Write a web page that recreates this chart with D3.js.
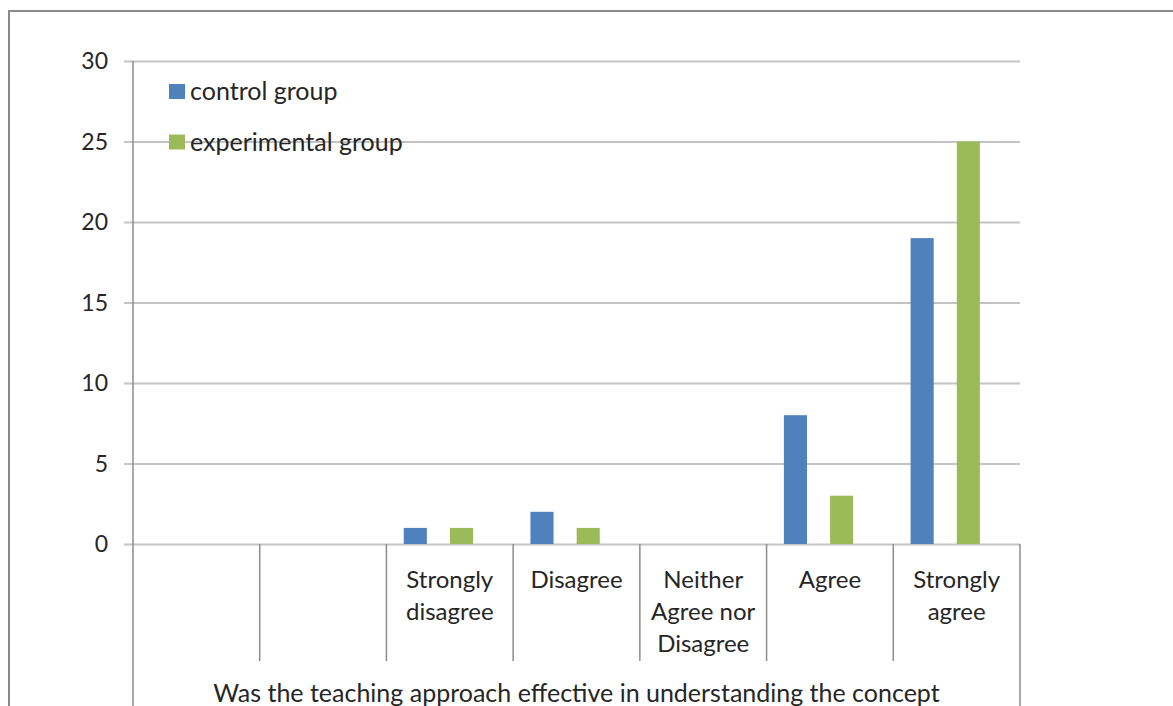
<!DOCTYPE html>
<html>
<head>
<meta charset="utf-8">
<script src="https://cdn.jsdelivr.net/npm/d3@7/dist/d3.min.js"></script>
<style>
  html, body { margin: 0; padding: 0; background: #fff; }
  svg { display: block; }
  text { font-family: Lato, "Open Sans", sans-serif; fill: #262626; }
</style>
</head>
<body>
<svg id="chart" width="1173" height="706"></svg>
<script>
// Survey responses per answer option
const categories = ["", "", "Strongly disagree", "Disagree", "Neither Agree nor Disagree", "Agree", "Strongly agree"];
const categoryLines = [[], [], ["Strongly", "disagree"], ["Disagree"], ["Neither", "Agree nor", "Disagree"], ["Agree"], ["Strongly", "agree"]];
const seriesNames = ["control group", "experimental group"];
const controlGroup = [0, 0, 1, 2, 0, 8, 19];
const experimentalGroup = [0, 0, 1, 1, 0, 3, 25];
const seriesColors = ["#4f81bd", "#9bbb59"];
const yTicks = [0, 5, 10, 15, 20, 25, 30];
const axisTitle = "Was the teaching approach effective in understanding the concept";

const W = 1173, H = 706;
const plot = { left: 133, right: 1020, top: 61, bottom: 544 };

const svg = d3.select("#chart");

// Outer chart frame (runs past the right and bottom edges)
svg.append("path")
  .attr("d", `M9,${H + 2} V11 H${W + 2}`)
  .attr("fill", "none")
  .attr("stroke", "#8a8a8a")
  .attr("stroke-width", 2);

const x = d3.scaleBand()
  .domain(d3.range(categories.length))
  .range([plot.left, plot.right])
  .padding(0);

const xInner = d3.scaleBand()
  .domain(d3.range(seriesNames.length))
  .range([x.bandwidth() * 0.1366, x.bandwidth() * 0.6836])
  .paddingInner(0.5)
  .paddingOuter(0);

const y = d3.scaleLinear()
  .domain([0, 30])
  .range([plot.bottom, plot.top]);

// Horizontal gridlines with tick stubs
const yAxis = d3.axisLeft(y)
  .tickValues(yTicks)
  .tickSize(-(plot.right - plot.left) - 9)
  .tickPadding(17)
  .tickFormat(d3.format("d"));

const gy = svg.append("g")
  .attr("transform", `translate(${plot.right},0)`)
  .call(yAxis);
gy.select(".domain").remove();
gy.selectAll(".tick line")
  .attr("x1", 0)
  .attr("x2", -(plot.right - plot.left) - 9)
  .attr("stroke", "#c4c4c4")
  .attr("stroke-width", 2);
gy.selectAll(".tick text").remove();

// Tick labels
svg.append("g").selectAll("text")
  .data(yTicks)
  .join("text")
  .attr("x", 108)
  .attr("y", d => y(d))
  .attr("dy", "0.36em")
  .attr("text-anchor", "end")
  .style("font-size", "23px")
  .text(d => d);

// Vertical axis line, running down through the category label area
svg.append("line")
  .attr("x1", plot.left).attr("x2", plot.left)
  .attr("y1", plot.top).attr("y2", H)
  .attr("stroke", "#8c8c8c").attr("stroke-width", 1.5);

svg.append("line")
  .attr("x1", plot.right).attr("x2", plot.right)
  .attr("y1", plot.bottom).attr("y2", H)
  .attr("stroke", "#8c8c8c").attr("stroke-width", 1.5);

// Category separators below the baseline
svg.append("g").selectAll("line")
  .data(d3.range(1, categories.length))
  .join("line")
  .attr("x1", d => x(d)).attr("x2", d => x(d))
  .attr("y1", plot.bottom).attr("y2", 661)
  .attr("stroke", "#8c8c8c").attr("stroke-width", 1.5);

// Bars
const rows = categories.map((c, i) => ({ i, values: [controlGroup[i], experimentalGroup[i]] }));
svg.append("g").selectAll("g")
  .data(rows)
  .join("g")
  .attr("transform", d => `translate(${x(d.i)},0)`)
  .selectAll("rect")
  .data(d => d.values.map((v, s) => ({ v, s })).filter(e => e.v > 0))
  .join("rect")
  .attr("x", d => xInner(d.s))
  .attr("width", xInner.bandwidth())
  .attr("y", d => y(d.v))
  .attr("height", d => y(0) - y(d.v))
  .attr("fill", d => seriesColors[d.s]);

// Category labels
svg.append("g").selectAll("text")
  .data(categoryLines.map((lines, i) => ({ lines, i })))
  .join("text")
  .attr("text-anchor", "middle")
  .style("font-size", "24px")
  .attr("transform", d => `translate(${x(d.i) + x.bandwidth() / 2},588)`)
  .selectAll("tspan")
  .data(d => d.lines)
  .join("tspan")
  .attr("x", 0)
  .attr("y", (d, k) => k * 32)
  .text(d => d);

// Axis title
svg.append("text")
  .attr("x", (plot.left + plot.right) / 2)
  .attr("y", 702)
  .attr("text-anchor", "middle")
  .style("font-size", "25px")
  .text(axisTitle);

// Legend
const legend = svg.append("g").selectAll("g")
  .data(seriesNames)
  .join("g")
  .attr("transform", (d, i) => `translate(169,${84 + i * 50.5})`);
legend.append("rect")
  .attr("width", 16).attr("height", 15)
  .attr("fill", (d, i) => seriesColors[i]);
legend.append("text")
  .attr("x", 21)
  .attr("y", 7)
  .attr("dy", "0.36em")
  .style("font-size", "25px")
  .text(d => d);
</script>
</body>
</html>
